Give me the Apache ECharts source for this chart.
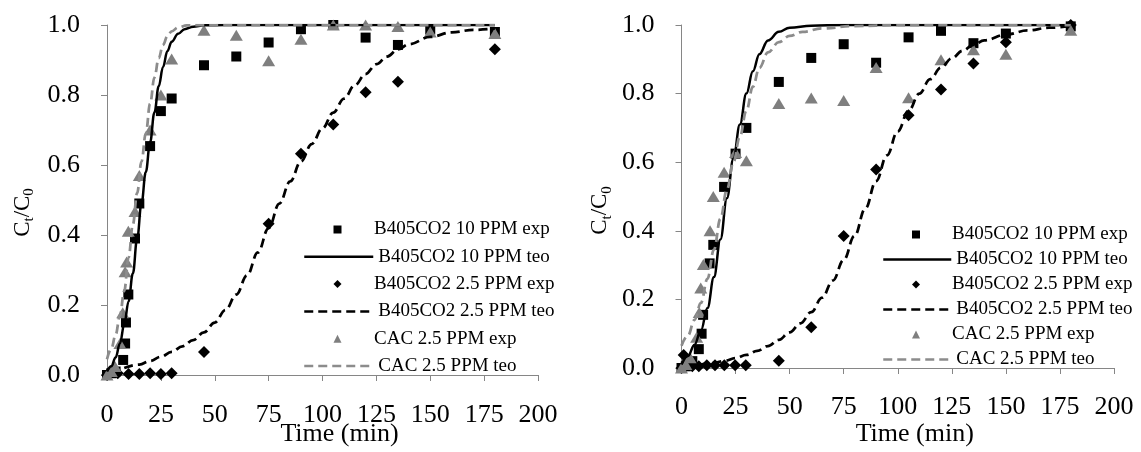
<!DOCTYPE html>
<html>
<head>
<meta charset="utf-8">
<script src="https://cdn.jsdelivr.net/npm/echarts@6/dist/echarts.min.js"></script>
<style>html,body{margin:0;padding:0;background:#fff}#c{width:1141px;height:452px}</style>
</head>
<body>
<div id="c"></div>
<script>
// ---- tick labels / names ----
const xTicks = [0, 25, 50, 75, 100, 125, 150, 175, 200];
const yTicks = [0.0, 0.2, 0.4, 0.6, 0.8, 1.0];
const seriesNames = ['B405CO2 10 PPM exp', 'B405CO2 10 PPM teo', 'B405CO2 2.5 PPM exp', 'B405CO2 2.5 PPM teo', 'CAC 2.5 PPM exp', 'CAC 2.5 PPM teo'];

// ---- left panel ----
const L_b10exp = [[0,0.0],[2,0.005],[4,0.01],[7.5,0.043],[8.4,0.09],[8.8,0.15],[9.9,0.23],[13,0.39],[15,0.49],[20,0.654],[25,0.754],[30,0.79],[45,0.885],[60,0.91],[75,0.95],[90,0.988],[105,1.0],[120,0.964],[135,0.943],[150,0.987],[180,0.98]];
const L_b10teo = [[0,0.01],[2,0.025],[4,0.05],[6,0.09],[8,0.145],[10,0.21],[12,0.29],[14,0.39],[16,0.49],[18,0.58],[20,0.665],[22,0.75],[24,0.825],[26,0.88],[28,0.925],[30,0.952],[33,0.975],[36,0.988],[40,0.995],[45,0.999],[55,1.0],[180,1.0]];
const L_b25exp = [[0,0.0],[5,0.005],[10,0.003],[15,0.003],[20,0.005],[25,0.003],[30,0.005],[45,0.066],[75,0.432],[90,0.632],[105,0.716],[120,0.808],[135,0.838],[180,0.931]];
const L_b25teo = [[8,0.02],[15,0.03],[20,0.04],[25,0.052],[30,0.066],[35,0.082],[40,0.1],[45,0.122],[50,0.15],[55,0.186],[60,0.23],[65,0.285],[70,0.35],[75,0.42],[80,0.49],[85,0.553],[90,0.61],[95,0.66],[100,0.705],[105,0.75],[110,0.79],[115,0.828],[120,0.86],[125,0.888],[130,0.91],[135,0.93],[140,0.945],[150,0.966],[160,0.979],[170,0.986],[180,0.99]];
const L_cacexp = [[0,0.0],[2,0.01],[3.7,0.024],[6,0.09],[7.3,0.178],[8.4,0.295],[9.1,0.323],[9.9,0.411],[13,0.467],[15,0.57],[20,0.7],[25,0.8],[30,0.903],[45,0.985],[60,0.971],[75,0.898],[90,0.959],[105,1.0],[120,1.0],[135,0.996],[150,0.98],[180,0.976]];
const L_cacteo = [[0,0.045],[2,0.075],[4,0.115],[6,0.17],[8,0.24],[10,0.335],[12,0.43],[14,0.52],[16,0.61],[18,0.69],[20,0.775],[22,0.85],[24,0.905],[26,0.943],[28,0.968],[30,0.982],[33,0.993],[37,0.999],[45,1.0],[180,1.0]];

// ---- right panel ----
const R_b10exp = [[0,0.0],[2,0.005],[5,0.02],[8,0.055],[9.3,0.1],[10,0.155],[13,0.305],[14.7,0.359],[19.7,0.528],[25,0.625],[30,0.7],[45,0.834],[60,0.904],[75,0.944],[90,0.89],[105,0.964],[120,0.983],[135,0.947],[150,0.975],[180,0.996]];
const R_b10teo = [[0,0.01],[3,0.035],[6,0.068],[9,0.11],[12,0.175],[15,0.265],[18,0.375],[21,0.495],[24,0.61],[27,0.71],[30,0.8],[33,0.865],[36,0.915],[40,0.955],[45,0.98],[50,0.992],[60,0.998],[75,1.0],[180,1.0]];
const R_b25exp = [[0,0.0],[1,0.038],[5,0.005],[8,0.005],[11.7,0.008],[15.5,0.008],[19.8,0.008],[24.8,0.008],[29.7,0.008],[45,0.021],[60,0.119],[75,0.385],[90,0.579],[105,0.737],[120,0.812],[135,0.888],[150,0.95],[180,1.0]];
const R_b25teo = [[8,0.008],[15,0.015],[20,0.021],[25,0.029],[30,0.038],[35,0.05],[40,0.064],[45,0.082],[50,0.104],[55,0.13],[60,0.163],[65,0.205],[70,0.255],[75,0.315],[80,0.385],[85,0.465],[90,0.545],[95,0.62],[100,0.69],[105,0.75],[110,0.8],[115,0.842],[120,0.876],[125,0.903],[130,0.925],[135,0.942],[140,0.955],[150,0.972],[160,0.984],[170,0.992],[180,0.997]];
const R_cacexp = [[0,0.0],[2,0.01],[4,0.03],[7,0.09],[8.2,0.162],[8.9,0.233],[10.1,0.302],[13.2,0.4],[14.7,0.5],[19.7,0.571],[25,0.628],[30,0.604],[45,0.771],[60,0.787],[75,0.78],[90,0.876],[105,0.788],[120,0.899],[135,0.928],[150,0.915],[180,0.985]];
const R_cacteo = [[0,0.065],[3,0.095],[6,0.14],[9,0.19],[12,0.26],[15,0.345],[18,0.435],[21,0.52],[24,0.6],[27,0.675],[30,0.75],[33,0.82],[36,0.875],[40,0.92],[45,0.95],[50,0.968],[56,0.98],[65,0.99],[80,0.997],[100,1.0],[180,1.0]];

const FONT = 'Liberation Serif';
const AX = '#868686';
const GREY = '#7f7f7f';
const GREYLINE = '#8c8c8c';

function xAxisCfg(gi, nameGap, margin) {
  return {
    gridIndex: gi, type: 'value', min: xTicks[0], max: xTicks[xTicks.length - 1], interval: xTicks[1] - xTicks[0],
    name: 'Time (min)', nameLocation: 'middle', nameGap: nameGap, nameMoveOverlap: false,
    nameTextStyle: { fontFamily: FONT, fontSize: 26, color: '#000', padding: [0, 0, 0, 34] },
    axisLine: { show: true, lineStyle: { color: AX, width: 1 } },
    axisTick: { show: true, length: 6, lineStyle: { color: AX } },
    axisLabel: { fontFamily: FONT, fontSize: 26, color: '#000', margin: margin },
    splitLine: { show: false }
  };
}
function yAxisCfg(gi, nameGap, shift) {
  return {
    gridIndex: gi, type: 'value', min: yTicks[0], max: yTicks[yTicks.length - 1], interval: yTicks[1] - yTicks[0],
    name: '{c|C}{s|t}{c|/C}{s|0}', nameLocation: 'middle', nameGap: nameGap, nameRotate: 90, nameMoveOverlap: false,
    nameTextStyle: {
      fontFamily: FONT, color: '#000', padding: [0, shift, 0, 0],
      rich: {
        c: { fontFamily: FONT, fontSize: 23, color: '#000' },
        s: { fontFamily: FONT, fontSize: 15, color: '#000', padding: [14, 0, 0, 0] }
      }
    },
    axisLine: { show: true, lineStyle: { color: AX, width: 1 } },
    axisTick: { show: true, length: 6, lineStyle: { color: AX } },
    axisLabel: { fontFamily: FONT, fontSize: 26, color: '#000', margin: 27, formatter: v => v.toFixed(1) },
    splitLine: { show: false }
  };
}
function panelSeries(gi, d) {
  const base = { xAxisIndex: gi, yAxisIndex: gi };
  return [
    Object.assign({ name: seriesNames[0], type: 'scatter', data: d[0], symbol: 'rect', symbolSize: 10, itemStyle: { color: '#000', opacity: 1 } }, base),
    Object.assign({ name: seriesNames[1], type: 'line', data: d[1], smooth: 0.4, smoothMonotone: 'x', symbol: 'none', lineStyle: { color: '#000', width: 2.5, type: 'solid' }, itemStyle: { color: '#000' } }, base),
    Object.assign({ name: seriesNames[2], type: 'scatter', data: d[2], symbol: 'diamond', symbolSize: 12, itemStyle: { color: '#000', opacity: 1 } }, base),
    Object.assign({ name: seriesNames[3], type: 'line', data: d[3], smooth: 0.4, smoothMonotone: 'x', symbol: 'none', lineStyle: { color: '#000', width: 2.75, type: [9, 5] }, itemStyle: { color: '#000' } }, base),
    Object.assign({ name: seriesNames[4], type: 'scatter', data: d[4], symbol: 'triangle', symbolSize: [13, 11], itemStyle: { color: GREY, opacity: 1 } }, base),
    Object.assign({ name: seriesNames[5], type: 'line', data: d[5], smooth: 0.4, smoothMonotone: 'x', symbol: 'none', lineStyle: { color: GREYLINE, width: 2.75, type: [9, 5] }, itemStyle: { color: GREYLINE } }, base)
  ];
}
// marker rows (exp) and line rows (teo) are two interleaved vertical legends
function markerLegend(iconCenterX, textX, top, gap) {
  return {
    orient: 'vertical', left: iconCenterX - 4, top: top, itemGap: gap, itemWidth: 8, itemHeight: 8, padding: 0,
    selectedMode: false,
    textStyle: { fontFamily: FONT, fontSize: 19, color: '#000', padding: [0, 0, 0, textX - (iconCenterX + 4) - 8] },
    data: [0, 2, 4].map(i => ({ name: seriesNames[i], icon: ['rect', 'diamond', 'triangle'][i / 2], itemStyle: { opacity: 1 } }))
  };
}
function lineLegend(left, w, top, gap) {
  return {
    orient: 'vertical', left: left, top: top, itemGap: gap, itemWidth: w, itemHeight: 8, padding: 0,
    selectedMode: false,
    textStyle: { fontFamily: FONT, fontSize: 19, color: '#000' },
    lineStyle: { width: 2.5 },
    data: [1, 3, 5].map(i => ({ name: seriesNames[i], itemStyle: { opacity: 0 } }))
  };
}

const chart = echarts.init(document.getElementById('c'), null, { renderer: 'canvas' });
chart.setOption({
  animation: false,
  backgroundColor: '#fff',
  grid: [
    { left: 107, top: 25, width: 431, height: 357 },
    { left: 681.5, top: 25, width: 432.5, height: 350 }
  ],
  xAxis: [xAxisCfg(0, 46, 27), xAxisCfg(1, 53, 26)],
  yAxis: [yAxisCfg(0, 70, 25), yAxisCfg(1, 67, 28)],
  legend: [
    markerLegend(337.5, 377, 220, 35.6), lineLegend(303, 69, 247.3, 35.6),
    markerLegend(916, 955, 225, 31), lineLegend(882, 68, 250, 31)
  ],
  series: panelSeries(0, [L_b10exp, L_b10teo, L_b25exp, L_b25teo, L_cacexp, L_cacteo])
    .concat(panelSeries(1, [R_b10exp, R_b10teo, R_b25exp, R_b25teo, R_cacexp, R_cacteo]))
});
</script>
</body>
</html>
